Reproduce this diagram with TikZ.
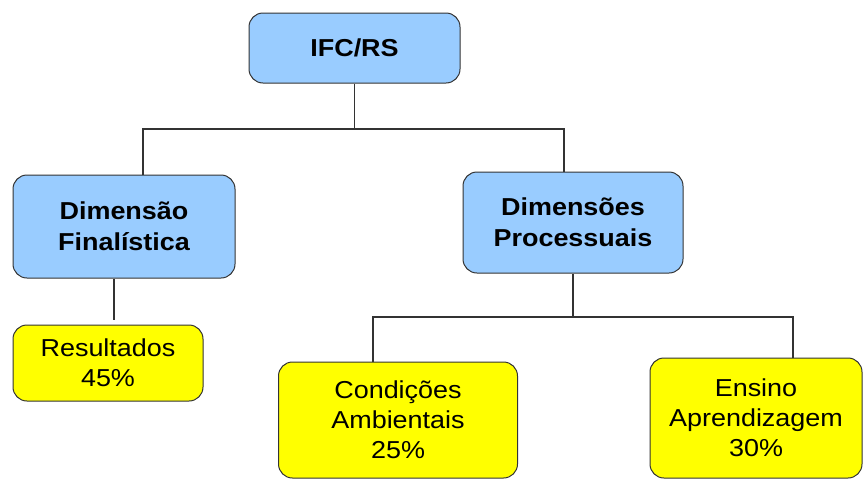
\documentclass[tikz,border=0pt]{standalone}
\usepackage{fontspec}
\setmainfont{Liberation Sans}[FakeStretch=1.1]
\definecolor{boxblue}{HTML}{99CCFF}
\definecolor{boxyellow}{HTML}{FFFF00}
\definecolor{edge}{HTML}{333333}
\tikzset{
  box/.style={draw=edge, line width=1pt, rectangle, rounded corners=14pt, inner sep=0pt, align=center},
  bluebox/.style={box, fill=boxblue, font=\fontsize{24.5}{31}\selectfont\bfseries},
  yellowbox/.style={box, fill=boxyellow, font=\fontsize{24.5}{30}\selectfont},
  conn/.style={draw=edge, line width=1.1pt}
}
\begin{document}
\begin{tikzpicture}[x=1pt,y=-1pt]
\useasboundingbox (0,0) rectangle (865,480);
\node[bluebox, minimum width=211pt, minimum height=70pt] (ifc) at (354.5,48) {IFC/RS};
\node[bluebox, minimum width=222pt, minimum height=103pt] (df) at (124,226.5) {Dimensão\\Finalística};
\node[bluebox, minimum width=220pt, minimum height=101pt] (dp) at (573,222.5) {Dimensões\\Processuais};
\node[yellowbox, minimum width=190pt, minimum height=76pt] (res) at (108,363) {Resultados\\45\%};
\node[yellowbox, minimum width=239pt, minimum height=116pt] (cond) at (398,420) {Condições\\Ambientais\\25\%};
\node[yellowbox, minimum width=212pt, minimum height=120pt] (ens) at (756,418) {Ensino\\Aprendizagem\\30\%};
\coordinate (c1) at (143,129);
\coordinate (c2) at (564,129);
\coordinate (d1) at (373,317);
\coordinate (d2) at (793,317);
\coordinate (r1) at (114,320);
\draw[conn] (ifc.south) -- (ifc.south |- c1);
\draw[conn] (c1 |- df.north) -- (c1) -- (c2) -- (c2 |- dp.north);
\draw[conn] (r1 |- df.south) -- (r1);
\draw[conn] (dp.south) -- (dp.south |- d1);
\draw[conn] (d1 |- cond.north) -- (d1) -- (d2) -- (d2 |- ens.north);
\end{tikzpicture}
\end{document}
